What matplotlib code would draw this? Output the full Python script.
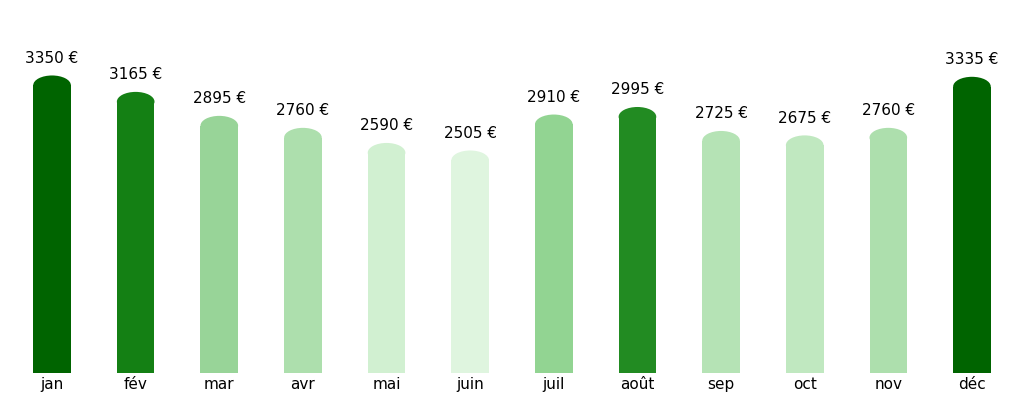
import matplotlib
matplotlib.use("Agg")
import matplotlib.pyplot as plt
from matplotlib.patches import Ellipse

months = ["jan","fév","mar","avr","mai","juin","juil","août","sep","oct","nov","déc"]
values = [3350,3165,2895,2760,2590,2505,2910,2995,2725,2675,2760,3335]
colors = ["#006400","#148014","#98d498","#addfad","#d1f0d1","#dff5df",
          "#92d492","#228b22","#b5e3b5","#c0e8c0","#addfad","#006400"]

fig = plt.figure(figsize=(10.24,4.04), dpi=100)
ax = fig.add_axes([0.01, 0.077, 0.98, 0.923])
x = list(range(len(months)))
w = 0.45
h = 110
ax.bar(x, [v-h for v in values], width=w, color=colors)
for xi, v, c in zip(x, values, colors):
    ax.add_patch(Ellipse((xi, v-h), w, 2*h, color=c, lw=0))
    ax.text(xi, v+110, f"{v} €", ha="center", va="bottom", fontsize=11)
ax.set_xlim(-0.5, 11.5)
ax.set_ylim(0, 4200)
ax.set_xticks(x)
ax.set_xticklabels(months, fontsize=11)
ax.tick_params(length=0, pad=3)
ax.set_yticks([])
for s in ax.spines.values():
    s.set_visible(False)
fig.savefig("out.png")
